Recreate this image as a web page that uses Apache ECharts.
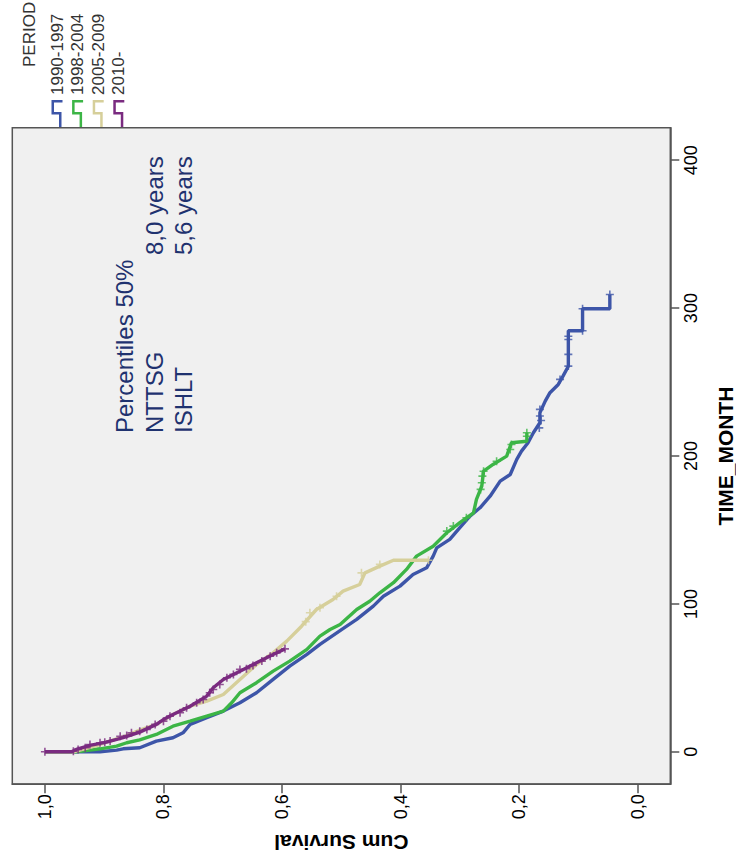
<!DOCTYPE html>
<html>
<head>
<meta charset="utf-8">
<script src="https://cdn.jsdelivr.net/npm/echarts@6/dist/echarts.min.js"></script>
<style>
  html, body { margin: 0; padding: 0; background: #ffffff; overflow: hidden; }
  #wrap { position: relative; width: 736px; height: 868px; overflow: hidden; }
  #chart { position: absolute; left: 0; top: 0; width: 868px; height: 736px;
           transform-origin: 0 0; transform: translateY(868px) rotate(-90deg); }
</style>
</head>
<body>
<div id="wrap"><div id="chart"></div></div>
<script>
// ---------------- data ----------------
const PERIODS = ['1990-1997', '1998-2004', '2005-2009', '2010-'];
const LEGEND_TITLE = 'PERIOD';
const TIME_TICKS = [0, 100, 200, 300, 400];
const SURV_TICKS = [0, 0.2, 0.4, 0.6, 0.8, 1.0];
const X_NAME = 'TIME_MONTH';
const Y_NAME = 'Cum Survival';
const NOTE_LINES = [['Percentiles 50%', ''], ['NTTSG', '8,0 years'], ['ISHLT', '5,6 years']];

// [month, cumulative survival]
const curve1990 = [[0,1.0],[0,0.907],[1.1,0.879],[2.0,0.868],[2.7,0.840],[7.2,0.812],[9.5,0.784],[12.8,0.767],[18.5,0.755],[23.0,0.727],[27.5,0.699],[33.1,0.671],[39.9,0.643],[48.9,0.615],[57.9,0.587],[65.8,0.558],[72.6,0.536],[82.7,0.499],[89.5,0.474],[98.5,0.446],[105.2,0.429],[112.0,0.401],[119.9,0.379],[124.4,0.356],[132.3,0.345],[137.9,0.339],[143.6,0.317],[151.5,0.300],[159.3,0.283],[165.0,0.266],[172.8,0.249],[183.0,0.232],[187.5,0.215],[197.7,0.204],[203.3,0.196],[209.0,0.185],[215.7,0.176],[222.5,0.165],[229.2,0.165],[237.1,0.156],[242.8,0.148],[248.4,0.134],[254.0,0.126],[260.7,0.117],[284.7,0.117],[284.7,0.093],[299.6,0.093],[299.6,0.047],[309.2,0.047]];
const curve1998 = [[0,1.0],[0,0.947],[1.1,0.924],[2.0,0.907],[3.8,0.879],[6.1,0.862],[8.0,0.840],[11.7,0.812],[17.3,0.784],[20.7,0.755],[24.1,0.727],[27.5,0.699],[33.1,0.685],[39.9,0.671],[46.7,0.643],[54.5,0.615],[61.3,0.587],[69.2,0.558],[78.2,0.536],[82.7,0.519],[86.1,0.502],[96.2,0.474],[101.8,0.452],[107.5,0.435],[114.3,0.412],[123.3,0.390],[132.3,0.373],[139.0,0.345],[148.1,0.322],[154.9,0.300],[161.6,0.277],[170.6,0.272],[179.6,0.263],[189.7,0.260],[194.3,0.244],[199.9,0.221],[209.0,0.213],[210.0,0.187],[215.7,0.187]];
const curve2005 = [[0,1.0],[0,0.952],[4.9,0.907],[6.5,0.896],[10.0,0.868],[14.6,0.840],[18.5,0.812],[25.2,0.784],[30.8,0.755],[34.2,0.727],[38.7,0.699],[48.9,0.671],[59.0,0.643],[66.9,0.615],[74.8,0.592],[84.9,0.567],[96.2,0.542],[103.0,0.514],[108.6,0.497],[113.1,0.469],[121.0,0.460],[125.5,0.435],[129.5,0.412],[129.5,0.353]];
const curve2010 = [[0,1.0],[0,0.955],[1.6,0.947],[4.3,0.924],[6.5,0.896],[9.5,0.868],[13.3,0.840],[18.5,0.812],[21.8,0.800],[25.2,0.784],[30.8,0.755],[37.6,0.727],[43.3,0.716],[48.9,0.699],[54.5,0.671],[60.2,0.643],[65.8,0.615],[69.6,0.595]];

// censored observations
const censor1990 = [[219,0.166],[224,0.163],[227,0.165],[231.5,0.165],[251.8,0.131],[260.8,0.117],[268.7,0.117],[278.8,0.117],[281,0.117],[284.7,0.093],[299.6,0.093],[309.2,0.047]];
const censor1998 = [[149.2,0.322],[152.6,0.311],[158.2,0.289],[177.4,0.265],[181.9,0.263],[186.4,0.262],[189.7,0.260],[196.5,0.238],[204.4,0.215],[207.8,0.213],[213.4,0.187],[215.7,0.187]];
const censor2005 = [[88,0.560],[94,0.553],[97.4,0.536],[105.2,0.508],[121,0.466],[126.7,0.435],[129.5,0.353]];
const censor2010 = [[0,1.0],[0.4,0.952],[1.6,0.944],[2.7,0.932],[4.9,0.924],[6.1,0.907],[6.5,0.899],[7.2,0.890],[10.5,0.873],[11,0.862],[12.8,0.854],[13.9,0.840],[15.1,0.828],[18.5,0.814],[20.7,0.800],[24.1,0.789],[26.4,0.772],[29.8,0.761],[33.1,0.744],[35.4,0.733],[39.9,0.722],[42.1,0.716],[45.5,0.705],[50,0.693],[52.3,0.682],[55.7,0.671],[56.1,0.660],[58.4,0.649],[61.3,0.634],[64.6,0.620],[66.9,0.609],[69.6,0.595]];

// ---------------- styling ----------------
const COLORS = ['#3d55a8', '#3cb546', '#d6cf9a', '#7a2b80'];
const FONT = "'Liberation Sans', Arial, sans-serif";
const PLUS = 'path://M4,0H6V4H10V6H6V10H4V6H0V4H4Z';
const STEP_ICON = 'path://M0,7.5H12.5V0H27V11H24.5V2.5H15V10H0Z';
const NOTE_COLOR = '#1f326f';
const AXIS_COLOR = '#555555';

const curves = [curve1990, curve1998, curve2005, curve2010];
const censors = [censor1990, censor1998, censor2005, censor2010];

const series = [];
PERIODS.forEach((name, i) => {
  series.push({
    name: name, type: 'line', data: curves[i], color: COLORS[i],
    showSymbol: false, symbol: 'none', lineStyle: { width: 3.4, color: COLORS[i] },
    z: 2 + i, silent: true, animation: false
  });
});
PERIODS.forEach((name, i) => {
  series.push({
    name: name + ' censored', type: 'scatter', data: censors[i],
    symbol: PLUS, symbolSize: 8, itemStyle: { color: COLORS[i] },
    z: 2 + i, silent: true, animation: false
  });
});

const graphics = [];
NOTE_LINES.forEach((row, r) => {
  const y = 124.6 + r * 29.5;
  graphics.push({ type: 'text', left: 435, top: y - 12, silent: true,
    style: { text: row[0], fill: NOTE_COLOR, font: '24px ' + FONT } });
  if (row[1]) graphics.push({ type: 'text', left: 613, top: y - 12, silent: true,
    style: { text: row[1], fill: NOTE_COLOR, font: '24px ' + FONT } });
});
graphics.push({ type: 'text', left: 801, top: 20.5, silent: true,
  style: { text: LEGEND_TITLE, fill: '#333333', font: '17px ' + FONT } });

const chart = echarts.init(document.getElementById('chart'), null, { renderer: 'svg', width: 868, height: 736 });
chart.setOption({
  animation: false,
  backgroundColor: '#ffffff',
  textStyle: { fontFamily: FONT },
  grid: {
    left: 83.7, right: 127.7, top: 12.3, bottom: 65.7,
    show: true, backgroundColor: '#f0f0f0', borderColor: AXIS_COLOR, borderWidth: 1.5,
    containLabel: false, outerBoundsMode: 'none'
  },
  legend: {
    data: PERIODS.map(p => ({ name: p, icon: STEP_ICON })),
    orient: 'vertical', left: 741, top: 46.7, padding: 0,
    itemWidth: 27, itemHeight: 11, itemGap: 0,
    textStyle: { fontSize: 17, lineHeight: 20.6, color: '#333333', fontFamily: FONT },
    selectedMode: false
  },
  xAxis: {
    type: 'value', min: -22, max: 422,
    name: X_NAME, nameLocation: 'middle', nameGap: 45,
    nameTextStyle: { fontSize: 21, fontWeight: 'bold', color: '#000', fontFamily: FONT },
    axisLine: { show: true, onZero: false, lineStyle: { color: AXIS_COLOR, width: 1.5 } },
    axisTick: { show: true, length: 9, customValues: TIME_TICKS, lineStyle: { color: AXIS_COLOR, width: 1.5 } },
    axisLabel: { customValues: TIME_TICKS, margin: 12, fontSize: 18, color: '#000', fontFamily: FONT,
      formatter: v => String(v) },
    splitLine: { show: false }
  },
  yAxis: {
    type: 'value', min: -0.055, max: 1.055,
    name: Y_NAME, nameLocation: 'middle', nameGap: 48,
    nameTextStyle: { fontSize: 21, fontWeight: 'bold', color: '#000', fontFamily: FONT },
    axisLine: { show: true, onZero: false, lineStyle: { color: AXIS_COLOR, width: 1.5 } },
    axisTick: { show: true, length: 9, customValues: SURV_TICKS, lineStyle: { color: AXIS_COLOR, width: 1.5 } },
    axisLabel: { customValues: SURV_TICKS, margin: 10, fontSize: 18, color: '#000', fontFamily: FONT,
      formatter: v => v.toFixed(1).replace('.', ',') },
    splitLine: { show: false }
  },
  graphic: graphics,
  series: series
});
</script>
</body>
</html>
